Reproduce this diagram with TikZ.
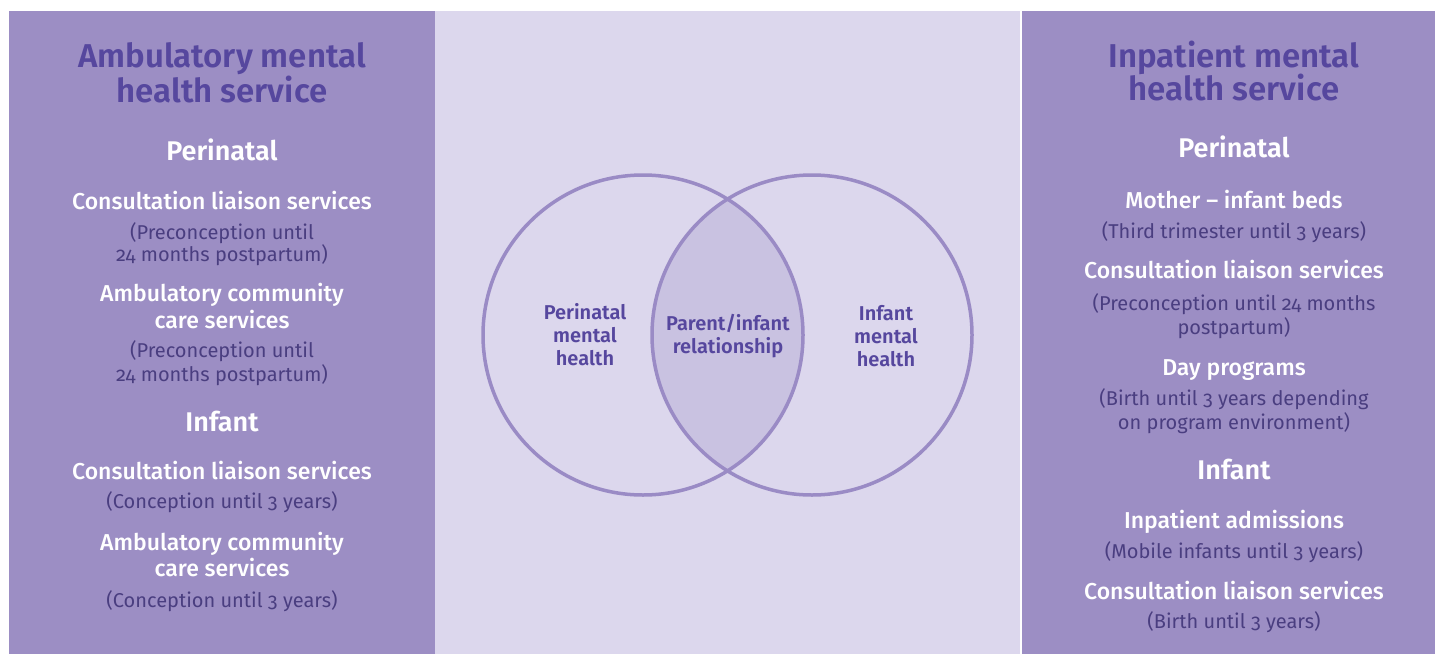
\documentclass[tikz,border=0pt]{standalone}
\usepackage{fontspec}
\setmainfont{Fira Sans}[Numbers=OldStyle]
\newfontfamily\medfont{Fira Sans Medium}[Numbers=OldStyle]
\newfontfamily\semifont{Fira Sans SemiBold}[Numbers=OldStyle]
\usetikzlibrary{positioning}

\definecolor{panel}{RGB}{156,142,196}
\definecolor{backdrop}{RGB}{220,215,237}
\definecolor{titlecol}{RGB}{86,71,158}
\definecolor{notecol}{RGB}{74,62,128}
\definecolor{ringcol}{RGB}{154,139,197}
\definecolor{lenscol}{RGB}{201,194,225}

\begin{document}
\begin{tikzpicture}[
      x = 1pt,
      y = -1pt,
      every node/.style = {inner sep = 0pt, anchor = base}]
      \tikzstyle{title}=[
      text = titlecol,
      font = \semifont\fontsize{33}{35}\selectfont]
      \tikzstyle{heading}=[
      text = white,
      font = \semifont\fontsize{27}{30}\selectfont]
      \tikzstyle{service}=[
      text = white,
      font = \medfont\fontsize{23}{26}\selectfont]
      \tikzstyle{note}=[
      text = notecol,
      font = \fontsize{20}{23}\selectfont]
      \tikzstyle{venn}=[
      text = titlecol,
      font = \semifont\fontsize{20}{23}\selectfont]
      \tikzstyle{ring}=[
      circle,
      draw = ringcol,
      line width = 3.5pt,
      minimum size = 320pt,
      anchor = center]

      \useasboundingbox (0,0) rectangle (1435,654);
      \fill[white] (0,0) rectangle (1435,654);
      \fill[panel] (9,11) rectangle (435,654);
      \fill[backdrop] (435,11) rectangle (1020,654);
      \fill[panel] (1022,11) rectangle (1435,654);

      % overlap of the two circles
      \begin{scope}
        \clip (643,335) circle (160);
        \fill[lenscol] (812,335) circle (160);
      \end{scope}
      \node[ring] (perinatal) at (643,335) {};
      \node[ring] (infant) at (812,335) {};

      \node[venn] (p1) at (585,319) {Perinatal};
      \node[venn] (p2) at (585,342) {mental};
      \node[venn] (p3) at (585,365) {health};
      \node[venn] (r1) at (728,330) {Parent/infant};
      \node[venn] (r2) at (728,353) {relationship};
      \node[venn] (i1) at (886,320) {Infant};
      \node[venn] (i2) at (886,343) {mental};
      \node[venn] (i3) at (886,366) {health};

      % ambulatory panel
      \node[title] (amb1) at (222,67) {Ambulatory mental};
      \node[title] (amb2) at (222,102) {health service};
      \node[heading] (ambperi) at (222,160) {Perinatal};
      \node[service] (a1) at (222,209) {Consultation liaison services};
      \node[note] (a1n1) at (222,239) {(Preconception until};
      \node[note] (a1n2) at (222,261) {24 months postpartum)};
      \node[service] (a2) at (222,301) {Ambulatory community};
      \node[service] (a2b) at (222,328) {care services};
      \node[note] (a2n1) at (222,357) {(Preconception until};
      \node[note] (a2n2) at (222,381) {24 months postpartum)};
      \node[heading] (ambinf) at (222,431) {Infant};
      \node[service] (a3) at (222,479) {Consultation liaison services};
      \node[note] (a3n) at (222,508) {(Conception until 3 years)};
      \node[service] (a4) at (222,550) {Ambulatory community};
      \node[service] (a4b) at (222,576) {care services};
      \node[note] (a4n) at (222,607) {(Conception until 3 years)};

      % inpatient panel
      \node[title] (inp1) at (1234,67) {Inpatient mental};
      \node[title] (inp2) at (1234,100) {health service};
      \node[heading] (inpperi) at (1234,157) {Perinatal};
      \node[service] (b1) at (1234,208) {Mother – infant beds};
      \node[note] (b1n) at (1234,238) {(Third trimester until 3 years)};
      \node[service] (b2) at (1234,278) {Consultation liaison services};
      \node[note] (b2n1) at (1234,310) {(Preconception until 24 months};
      \node[note] (b2n2) at (1234,334) {postpartum)};
      \node[service] (b3) at (1234,375) {Day programs};
      \node[note] (b3n1) at (1234,405) {(Birth until 3 years depending};
      \node[note] (b3n2) at (1234,429) {on program environment)};
      \node[heading] (inpinf) at (1234,479) {Infant};
      \node[service] (b4) at (1234,528) {Inpatient admissions};
      \node[note] (b4n) at (1234,558) {(Mobile infants until 3 years)};
      \node[service] (b5) at (1234,599) {Consultation liaison services};
      \node[note] (b5n) at (1234,628) {(Birth until 3 years)};
\end{tikzpicture}
\end{document}
